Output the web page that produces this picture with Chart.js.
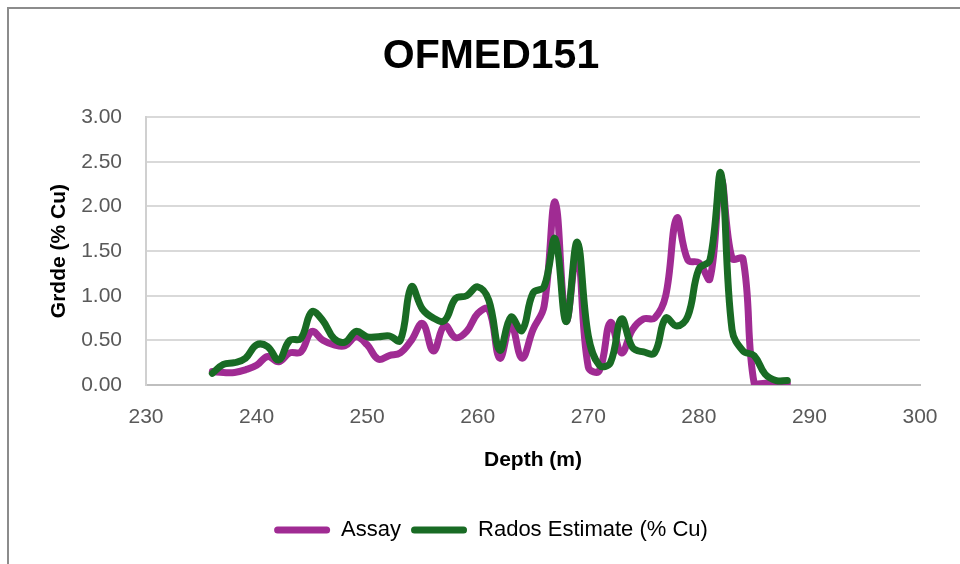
<!DOCTYPE html>
<html>
<head>
<meta charset="utf-8">
<script src="https://cdn.jsdelivr.net/npm/chart.js@4/dist/chart.umd.min.js"></script>
<style>
  html, body { margin: 0; padding: 0; background: #fff; overflow: hidden; }
  #frame {
    position: absolute; left: 7px; top: 7px; width: 1000px; height: 600px;
    border: 2px solid #8c8c8c; box-sizing: border-box;
  }
  #chart { position: absolute; left: 0; top: 0; }
</style>
</head>
<body>
<div id="frame"></div>
<canvas id="chart" width="960" height="564"></canvas>
<script>
// Depth (m) of each sample
const depths = [236, 237, 238, 239, 240, 241, 242, 243, 244, 245,
                246, 247, 248, 249, 250, 251, 252, 253, 254, 255,
                256, 257, 258, 259, 260, 261, 262, 263, 264, 265,
                266, 267, 268, 269, 270, 271, 272, 273, 274, 275,
                276, 277, 278, 279, 280, 281, 282, 283, 284, 285,
                286, 287, 288];

// Assay grade (% Cu)
const assay = [0.15, 0.14, 0.14, 0.17, 0.22, 0.32, 0.26, 0.36, 0.37, 0.60,
               0.50, 0.45, 0.44, 0.54, 0.45, 0.29, 0.33, 0.36, 0.50, 0.69,
               0.38, 0.67, 0.53, 0.60, 0.80, 0.85, 0.30, 0.68, 0.30, 0.62,
               0.88, 2.05, 0.72, 1.50, 0.20, 0.16, 0.70, 0.36, 0.62, 0.74,
               0.75, 1.00, 1.87, 1.40, 1.37, 1.19, 2.30, 1.42, 1.41, 0.02,
               0.02, 0.02, 0.02];

// Rados estimate (% Cu)
const rados = [0.13, 0.23, 0.25, 0.30, 0.45, 0.43, 0.28, 0.50, 0.52, 0.82,
               0.72, 0.52, 0.48, 0.60, 0.54, 0.54, 0.55, 0.50, 1.10, 0.85,
               0.75, 0.72, 0.97, 1.00, 1.10, 0.95, 0.39, 0.76, 0.61, 1.03,
               1.10, 1.64, 0.71, 1.60, 0.55, 0.22, 0.25, 0.74, 0.42, 0.37,
               0.36, 0.75, 0.66, 0.77, 1.30, 1.40, 2.37, 0.62, 0.38, 0.33,
               0.12, 0.05, 0.05];

const seriesNames = ['Assay', 'Rados Estimate (% Cu)'];

const FONT = '"Liberation Sans", Arial, sans-serif';
const toPoints = (ys) => ys.map((y, i) => ({ x: depths[i], y: y }));

new Chart(document.getElementById('chart'), {
    type: 'line',
    data: {
        datasets: [
            {
                label: seriesNames[0],
                data: toPoints(assay),
                borderColor: '#A02B93',
                backgroundColor: '#A02B93',
                borderWidth: 7,
                borderCapStyle: 'round',
                borderJoinStyle: 'round',
                pointRadius: 0,
                tension: 0.4,
                order: 1
            },
            {
                label: seriesNames[1],
                data: toPoints(rados),
                borderColor: '#196B24',
                backgroundColor: '#196B24',
                borderWidth: 7,
                borderCapStyle: 'round',
                borderJoinStyle: 'round',
                pointRadius: 0,
                tension: 0.4,
                order: 0
            }
        ]
    },
    options: {
        responsive: false,
        animation: false,
        devicePixelRatio: 1,
        layout: { padding: { left: 62, right: 40, top: 10, bottom: 13 } },
        plugins: {
            title: {
                display: true,
                text: 'OFMED151',
                color: '#000',
                font: { family: FONT, size: 41, weight: 'bold' },
                padding: { top: 22, bottom: 36 }
            },
            legend: {
                position: 'bottom',
                labels: {
                    color: '#000',
                    font: { family: FONT, size: 22 },
                    boxWidth: 56,
                    boxHeight: 7,
                    useBorderRadius: true,
                    borderRadius: 3.5,
                    padding: 10,
                    sort: (a, b) => a.datasetIndex - b.datasetIndex,
                    generateLabels: (chart) => chart.data.datasets.map((ds, i) => ({
                        text: ds.label,
                        fillStyle: ds.borderColor,
                        strokeStyle: ds.borderColor,
                        lineWidth: 0,
                        borderRadius: 3.5,
                        datasetIndex: i,
                        fontColor: '#000'
                    }))
                }
            },
            tooltip: { enabled: false }
        },
        scales: {
            x: {
                type: 'linear',
                min: 230,
                max: 300,
                ticks: {
                    stepSize: 10,
                    color: '#595959',
                    font: { family: FONT, size: 21 },
                    padding: 20
                },
                grid: { display: false, drawTicks: false },
                border: { display: true, color: '#bfbfbf', width: 2 },
                title: {
                    display: true,
                    text: 'Depth (m)',
                    color: '#000',
                    font: { family: FONT, size: 21, weight: 'bold' },
                    padding: { top: 0, bottom: 36 }
                },
                afterFit: (scale) => {
                    scale.height = 124;
                    scale.paddingLeft = 0;
                    scale.paddingRight = 0;
                }
            },
            y: {
                min: 0,
                max: 3,
                ticks: {
                    stepSize: 0.5,
                    color: '#595959',
                    font: { family: FONT, size: 21 },
                    padding: 24,
                    callback: (v) => Number(v).toFixed(2)
                },
                grid: { color: '#d9d9d9', lineWidth: 2, drawTicks: false },
                border: { display: true, color: '#d0d0d0', width: 2 },
                title: {
                    display: true,
                    text: 'Grdde (% Cu)',
                    color: '#000',
                    font: { family: FONT, size: 21, weight: 'bold' },
                    padding: { top: -15, bottom: 0 }
                },
                afterFit: (scale) => {
                    scale.width = 84;
                    scale.paddingTop = 0;
                    scale.paddingBottom = 0;
                }
            }
        }
    }
});
</script>
</body>
</html>
